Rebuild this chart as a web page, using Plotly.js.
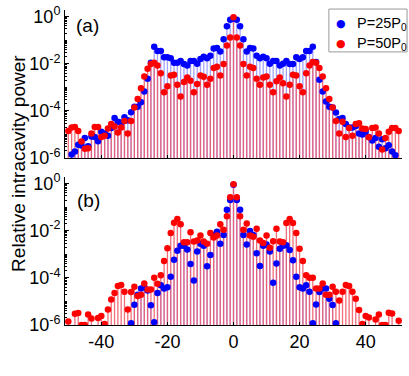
<!DOCTYPE html>
<html>
<head>
<meta charset="utf-8">
<script src="https://cdn.plot.ly/plotly-3.0.1.min.js"></script>
<style>
  html, body { margin: 0; padding: 0; background: #fff; }
  #chart { width: 409px; height: 376px; }
</style>
</head>
<body>
<div id="chart"></div>
<script>
// comb mode index
var modes = [-50,-49,-48,-47,-46,-45,-44,-43,-42,-41,
  -40,-39,-38,-37,-36,-35,-34,-33,-32,-31,
  -30,-29,-28,-27,-26,-25,-24,-23,-22,-21,
  -20,-19,-18,-17,-16,-15,-14,-13,-12,-11,
  -10,-9,-8,-7,-6,-5,-4,-3,-2,-1,
  0,
  1,2,3,4,5,6,7,8,9,10,
  11,12,13,14,15,16,17,18,19,20,
  21,22,23,24,25,26,27,28,29,30,
  31,32,33,34,35,36,37,38,39,40,
  41,42,43,44,45,46,47,48,49,50];

// (a) P = 25 P0 (blue)
var a_p25 = [null,1.4e-6,1.9e-6,3.7e-6,3.4e-6,7.1e-6,3.2e-6,8.3e-6,7.9e-6,5.2e-6,
  1.3e-5,1.1e-5,8.9e-6,1.9e-5,5.0e-5,3.5e-5,3.2e-5,5.4e-5,4.0e-5,8.7e-5,
  1.5e-4,1.5e-4,2.3e-4,6.6e-4,2.3e-3,1.1e-2,5.2e-2,3.5e-2,3.5e-2,1.9e-2,
  1.9e-2,1.7e-2,1.1e-2,1.1e-2,1.3e-2,9.8e-3,8.5e-3,1.3e-2,1.3e-2,1.0e-2,
  1.6e-2,2.0e-2,1.7e-2,2.2e-2,4.4e-2,4.7e-2,3.3e-2,0.11,0.39,0.74,
  0.83,
  0.74,0.39,0.11,3.3e-2,4.7e-2,4.4e-2,2.2e-2,1.7e-2,2.0e-2,1.7e-2,
  1.0e-2,1.3e-2,1.3e-2,8.5e-3,1.0e-2,1.3e-2,9.8e-3,9.8e-3,1.9e-2,1.6e-2,
  1.9e-2,3.5e-2,3.5e-2,5.2e-2,1.2e-2,2.1e-3,6.6e-4,2.5e-4,1.5e-4,1.4e-4,
  8.5e-5,4.5e-5,5.0e-5,2.8e-5,2.0e-5,2.0e-5,2.3e-5,1.1e-5,1.0e-5,1.3e-5,
  7.9e-6,5.6e-6,7.1e-6,3.0e-6,6.3e-6,2.6e-6,3.5e-6,1.9e-6,1.3e-6,null];

// (a) P = 50 P0 (red)
var a_p50 = [1.4e-5,2.0e-5,2.1e-5,1.4e-5,5.0e-6,2.5e-6,2.6e-6,1.1e-5,2.1e-5,2.1e-5,
  7.9e-6,8.9e-6,1.8e-5,2.8e-5,2.2e-5,1.2e-5,2.0e-5,3.7e-5,1.1e-5,3.7e-5,
  1.4e-4,3.2e-4,9.1e-4,2.9e-3,6.2e-3,9.8e-3,1.1e-2,8.5e-3,4.0e-3,6.2e-4,
  1.1e-3,3.2e-3,3.4e-3,1.3e-3,4.1e-4,1.7e-3,2.6e-3,1.9e-3,6.2e-4,1.4e-3,
  3.2e-3,2.8e-3,1.3e-3,2.3e-3,6.6e-3,7.4e-3,3.2e-3,9.8e-3,6.0e-2,0.13,
  0.95,
  0.13,6.0e-2,9.8e-3,3.2e-3,7.4e-3,6.6e-3,2.3e-3,1.3e-3,2.6e-3,2.9e-3,
  1.3e-3,6.2e-4,1.8e-3,2.6e-3,1.5e-3,4.1e-4,1.3e-3,3.4e-3,3.2e-3,1.1e-3,
  6.2e-4,4.0e-3,8.5e-3,1.2e-2,1.1e-2,6.6e-3,2.9e-3,9.1e-4,3.2e-4,1.4e-4,
  3.7e-5,1.1e-5,3.5e-5,7.9e-6,1.9e-5,8.9e-6,2.8e-5,3.0e-5,1.8e-5,1.7e-5,
  7.6e-6,1.9e-5,2.0e-5,1.1e-5,2.3e-6,7.1e-6,1.3e-5,1.9e-5,1.9e-5,1.4e-5];

// (b) P = 25 P0 (blue)
var b_p25 = [null,null,null,null,null,null,null,null,null,null,
  null,null,null,null,null,null,null,null,null,1.2e-6,
  7.2e-6,1.9e-5,3.5e-5,4.1e-5,2.9e-5,6.8e-6,1.3e-6,2.3e-5,4.8e-5,3.5e-5,
  4.0e-5,1.1e-4,5.8e-4,1.4e-3,2.3e-3,2.3e-3,1.6e-3,3.9e-4,7.8e-5,1.3e-3,
  2.8e-3,2.3e-3,3.1e-4,9.3e-4,6.6e-3,9.1e-3,2.8e-3,6.6e-3,7.8e-2,0.20,
  0.89,
  0.20,7.8e-2,6.6e-3,2.6e-3,9.8e-3,6.6e-3,1.1e-3,3.2e-4,2.3e-3,2.6e-3,
  1.3e-3,6.2e-5,4.1e-4,1.7e-3,2.3e-3,2.4e-3,1.5e-3,5.6e-4,1.1e-4,4.0e-5,
  3.5e-5,4.9e-5,2.6e-5,1.2e-6,7.4e-6,2.5e-5,3.5e-5,3.5e-5,1.3e-5,7.1e-6,
  1.2e-6,null,null,null,null,null,null,null,null,null,
  null,null,null,null,null,null,null,null,null,null];

// (b) P = 50 P0 (red)
var b_p50 = [1.4e-6,null,3.0e-6,3.2e-6,1.0e-6,1.0e-6,2.8e-6,1.9e-6,null,2.0e-6,
  2.4e-6,1.1e-6,4.5e-6,1.2e-5,2.3e-5,4.5e-5,5.0e-5,2.6e-5,4.6e-6,2.5e-5,
  4.2e-5,1.7e-5,1.9e-5,5.8e-5,3.2e-5,3.2e-5,1.0e-4,5.6e-5,1.3e-4,5.2e-4,
  1.8e-3,7.9e-3,2.2e-2,3.1e-2,1.9e-2,3.2e-3,3.2e-3,8.5e-3,3.5e-3,3.8e-3,
  6.2e-3,3.5e-3,2.8e-3,7.9e-3,5.2e-3,6.2e-3,1.9e-2,1.1e-2,4.1e-2,0.26,
  0.93,
  0.26,4.1e-2,1.1e-2,2.0e-2,6.3e-3,5.5e-3,1.2e-2,3.8e-3,3.0e-3,6.2e-3,
  1.9e-3,3.6e-3,1.2e-2,3.5e-3,3.2e-3,2.1e-2,3.1e-2,2.1e-2,7.9e-3,1.7e-3,
  5.2e-4,1.3e-4,1.0e-4,1.0e-4,3.5e-5,3.5e-5,5.8e-5,1.9e-5,1.9e-5,4.2e-5,
  2.6e-5,1.1e-5,2.6e-5,5.0e-5,4.5e-5,2.6e-5,1.3e-5,4.3e-6,1.1e-6,2.4e-6,
  2.1e-6,null,1.7e-6,2.8e-6,1.0e-6,1.0e-6,3.3e-6,3.1e-6,null,1.5e-6];

var yTickVals = [1e-6, 1e-4, 1e-2, 1];
var yTickText = ['10<sup>-6</sup>', '10<sup>-4</sup>', '10<sup>-2</sup>', '10<sup>0</sup>'];
var xTickVals = [-40, -20, 0, 20, 40];
var xTickText = ['-40', '-20', '0', '20', '40'];
var seriesNames = ['P=25P<sub>0</sub>', 'P=50P<sub>0</sub>'];

var BLUE = '#0000ff', RED = '#ff0000';
var BLUE_STEM = 'rgba(90,90,255,0.55)', RED_STEM = 'rgba(240,85,100,0.85)';
var STEM_BASE = 1e-8;
var FONT = 'Liberation Sans, Arial, sans-serif';

// stem lines: x, x, gap pattern from the bottom of the axis up to the value
function stemLines(vals, color, xa, ya) {
  var x = [], y = [];
  modes.forEach(function(m, i) {
    if (vals[i] == null) return;
    x.push(m, m, null);
    y.push(STEM_BASE, vals[i], null);
  });
  return {x: x, y: y, mode: 'lines', line: {color: color, width: 1.3},
          xaxis: xa, yaxis: ya, showlegend: false, hoverinfo: 'skip'};
}

function dots(vals, color, name, xa, ya) {
  return {x: modes, y: vals, mode: 'markers', name: name,
          marker: {color: color, size: 6.5},
          xaxis: xa, yaxis: ya, showlegend: false};
}

var data = [
  stemLines(a_p25, BLUE_STEM, 'x', 'y'),
  stemLines(a_p50, RED_STEM, 'x', 'y'),
  dots(a_p25, BLUE, seriesNames[0], 'x', 'y'),
  dots(a_p50, RED, seriesNames[1], 'x', 'y'),
  stemLines(b_p25, BLUE_STEM, 'x2', 'y2'),
  stemLines(b_p50, RED_STEM, 'x2', 'y2'),
  dots(b_p25, BLUE, seriesNames[0], 'x2', 'y2'),
  dots(b_p50, RED, seriesNames[1], 'x2', 'y2')
];

// minor log ticks: 2..9 per decade plus the unlabelled decades
var minorVals = [1e-5, 1e-3, 1e-1];
for (var d = -6; d < 0; d++) {
  for (var k = 2; k <= 9; k++) minorVals.push(k * Math.pow(10, d));
}

function yAxis(domain, anchor) {
  return {type: 'log', domain: domain, anchor: anchor, range: [-6, 0.28],
          tickmode: 'array', tickvals: yTickVals, ticktext: yTickText,
          ticks: 'inside', ticklen: 4, tickcolor: '#000',
          minor: {tickmode: 'array', tickvals: minorVals, ticks: 'inside', ticklen: 2, tickcolor: '#000'},
          showline: true, linecolor: '#000', linewidth: 1, showgrid: false, zeroline: false,
          tickfont: {size: 18, color: '#000', family: FONT}};
}

function xAxis(anchor, labels) {
  return {anchor: anchor, range: [-51, 51], tickmode: 'array', tickvals: xTickVals,
          ticktext: xTickText, ticks: 'inside', ticklen: 3, tickcolor: '#000',
          showticklabels: labels,
          showline: true, linecolor: '#000', linewidth: 1, showgrid: false, zeroline: false,
          tickfont: {size: 18, color: '#000', family: FONT}};
}

// legend box drawn by hand so the symbol/text spacing matches the figure
var legendShapes = [
  {type: 'rect', xref: 'paper', yref: 'paper', x0: 0.783, x1: 1.015, y0: 0.867, y1: 1.003,
   line: {color: '#999', width: 1}, fillcolor: '#fff', layer: 'above'}
];
var legendAnn = [];
[[BLUE, 0.957], [RED, 0.893]].forEach(function(row, i) {
  legendAnn.push({text: '\u25CF', xref: 'paper', yref: 'paper', x: 0.819, y: row[1],
    xanchor: 'center', yanchor: 'middle', showarrow: false,
    font: {size: 11, color: row[0], family: 'DejaVu Sans'}});
  legendAnn.push({text: seriesNames[i], xref: 'paper', yref: 'paper', x: 0.862, y: row[1],
    xanchor: 'left', yanchor: 'middle', showarrow: false,
    font: {size: 14.5, color: '#000', family: FONT}});
});

var layout = {
  width: 409, height: 376,
  margin: {l: 65, r: 7, t: 10, b: 51},
  paper_bgcolor: '#fff', plot_bgcolor: '#fff',
  font: {family: FONT, color: '#000'},
  showlegend: false,
  xaxis: xAxis('y', false),
  yaxis: yAxis([0.53, 1], 'x'),
  xaxis2: xAxis('y2', true),
  yaxis2: yAxis([0, 0.47], 'x2'),
  shapes: legendShapes,
  annotations: [
    {text: '(a)', xref: 'paper', yref: 'paper', x: 0.068, y: 0.95, xanchor: 'center', yanchor: 'middle',
     showarrow: false, font: {size: 19, family: FONT}},
    {text: '(b)', xref: 'paper', yref: 'paper', x: 0.07, y: 0.396, xanchor: 'center', yanchor: 'middle',
     showarrow: false, font: {size: 19, family: FONT}},
    {text: 'Relative intracavity power', xref: 'paper', yref: 'paper', x: -0.14, y: 0.514,
     xanchor: 'center', yanchor: 'middle', textangle: -90, showarrow: false,
     font: {size: 19, family: FONT}}
  ].concat(legendAnn)
};

Plotly.newPlot('chart', data, layout, {displayModeBar: false, staticPlot: true});
</script>
</body>
</html>
